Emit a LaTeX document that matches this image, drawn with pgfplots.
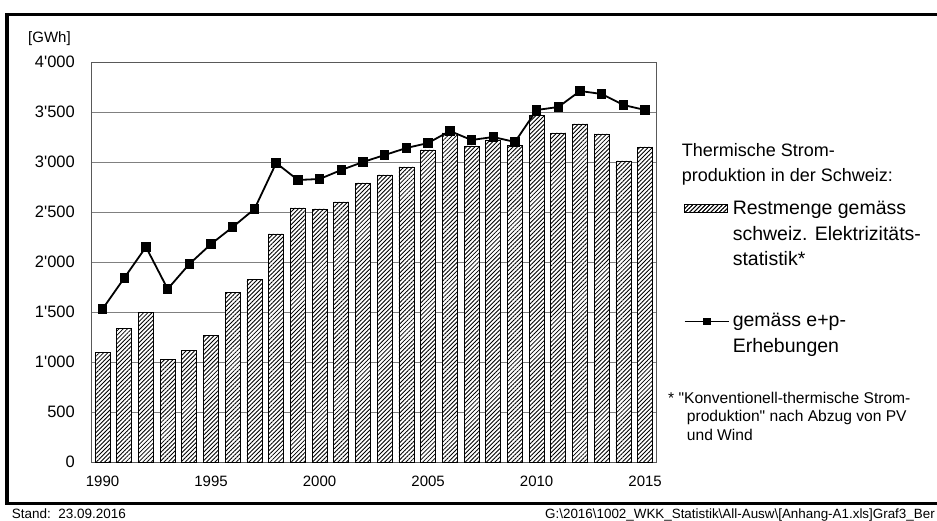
\documentclass[border=0pt]{standalone}
\usepackage{fontspec}
\newfontfamily\arial{Liberation Sans}
\usepackage{pgfplots}
\pgfplotsset{compat=1.18}
\usetikzlibrary{patterns.meta}
\pgfplotstableread{
year bar
1990 1100
1991 1340
1992 1500
1993 1030
1994 1120
1995 1270
1996 1700
1997 1830
1998 2280
1999 2540
2000 2530
2001 2600
2002 2790
2003 2870
2004 2950
2005 3120
2006 3290
2007 3160
2008 3220
2009 3170
2010 3470
2011 3290
2012 3380
2013 3280
2014 3010
2015 3150
}\bardata
\pgfplotstableread{
year line
1990 1530
1991 1840
1992 2150
1993 1730
1994 1980
1995 2180
1996 2350
1997 2530
1998 2990
1999 2820
2000 2830
2001 2920
2002 3000
2003 3070
2004 3140
2005 3190
2006 3310
2007 3220
2008 3250
2009 3200
2010 3520
2011 3550
2012 3710
2013 3680
2014 3570
2015 3520
}\linedata
\begin{document}
\arial
\begin{tikzpicture}[x=1pt,y=1pt]
\begin{axis}[
  at={(91.7pt,58pt)}, anchor=south west,
  scale only axis, width=564.3pt, height=400pt,
  xmin=1989.5, xmax=2015.5, ymin=0, ymax=4000,
  xtick={1990,1995,...,2015}, ytick={0,500,...,4000},
  major tick length=0pt,
  ymajorgrids, grid style={black!50, line width=0.8pt},
  axis line style={black!65, line width=0.8pt},
  /pgf/number format/assume math mode=true,
  xticklabel style={/pgf/number format/1000 sep={}, font=\fontsize{15}{18}\selectfont, anchor=base, inner sep=0pt, yshift=-24.7pt},
  yticklabel style={/pgf/number format/1000 sep={'}, font=\fontsize{16.5}{19}\selectfont, anchor=east, inner sep=0pt, xshift=-16.7pt},
  legend style={draw=none, fill=none, at={(1.0496,0.653)}, anchor=north west,
    inner sep=0pt, outer sep=0pt, column sep=3pt, row sep=45.9pt,
    cells={anchor=base west, align=left}, nodes={inner sep=0pt},
    font=\fontsize{19.5}{25.8}\selectfont},
]
\addplot[ybar, bar width=15pt, fill=white, draw=black, line width=0.8pt,
  postaction={pattern={Lines[angle=45,distance=3pt,line width=0.85pt]}},
  legend image code/.code={\draw[fill=white,draw=black,line width=0.8pt,postaction={pattern={Lines[angle=45,distance=3pt,line width=0.75pt]}}] (0pt,53.6pt) rectangle (43pt,61.6pt);}]
  table[x=year,y=bar]{\bardata};
\addlegendentry{Restmenge gemäss\\schweiz. Elektrizitäts-\\statistik*}
\addplot[black, line width=1.8pt, mark=square*, mark size=3.8pt, mark options={solid},
  legend image code/.code={\draw[black,line width=1.8pt] (0pt,30.8pt) -- (44pt,30.8pt);
    \draw[mark repeat=2,mark phase=2,black,mark=square*,mark size=3pt] plot coordinates {(0pt,30.8pt) (22pt,30.8pt) (44pt,30.8pt)};}]
  table[x=year,y=line]{\linedata};
\addlegendentry{gemäss e+p-\\Erhebungen}
\end{axis}
\node[anchor=base west, align=left, inner sep=0pt, font=\fontsize{18}{25}\selectfont] at (681.7,338.3) {Thermische Strom-\\produktion in der Schweiz:};
\node[anchor=base west, align=left, inner sep=0pt, font=\fontsize{15.6}{18.3}\selectfont] at (668,80) {* "Konventionell-thermische Strom-\\\hspace*{18.7pt}produktion" nach Abzug von PV\\\hspace*{18.7pt}und Wind};
\node[anchor=base west, inner sep=0pt, font=\fontsize{15}{17}\selectfont] at (28,477) {[GWh]};
\node[anchor=base west, inner sep=0pt, font=\fontsize{13.5}{15}\selectfont] at (11.7,1.7) {Stand:\ \ 23.09.2016};
\node[anchor=base west, inner sep=0pt, font=\fontsize{13.4}{15}\selectfont] at (545,1.7) {G:\textbackslash 2016\textbackslash 1002\_WKK\_Statistik\textbackslash All-Ausw\textbackslash [Anhang-A1.xls]Graf3\_Ber};
\draw[line width=3.2pt] (950,16.2) -- (7,16.2) -- (7,505.5) -- (950,505.5);
\pgfresetboundingbox
\useasboundingbox (0,0) rectangle (937,520);
\end{tikzpicture}
\end{document}
